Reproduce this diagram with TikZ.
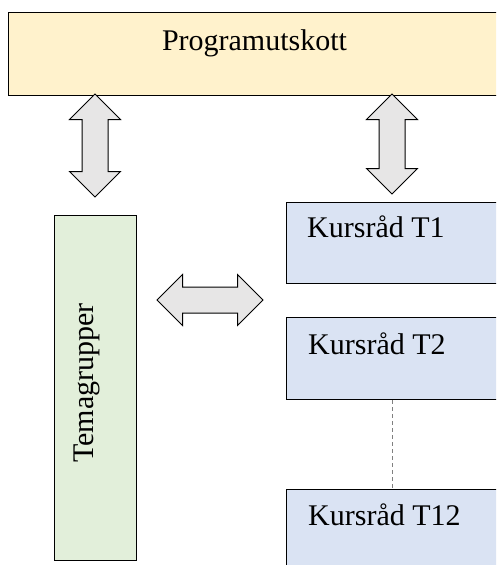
\documentclass[tikz,border=0pt]{standalone}
\usepackage{fontspec}
\setmainfont{Liberation Serif}
\usepackage{tikz}
\usetikzlibrary{positioning, shapes.arrows}

\definecolor{progfill}{HTML}{FFF2CC}
\definecolor{temafill}{HTML}{E2EFDA}
\definecolor{kursfill}{HTML}{DAE3F3}
\definecolor{linkfill}{HTML}{E7E6E6}

\begin{document}
\begin{tikzpicture}[x=1pt, y=1pt, node distance=33pt,
    unit/.style = {draw, line width=1pt, rectangle, inner sep=0pt,
                   anchor=north west},
    kurs/.style = {unit, fill=kursfill, minimum width=212pt, minimum height=82pt},
    caption/.style = {inner sep=0pt, font=\fontsize{30}{36}\selectfont},
    link/.style = {draw, line width=1pt, fill=linkfill, double arrow,
                   inner xsep=0pt, inner ysep=12.5pt, minimum width=50pt,
                   double arrow head extend=12.5pt}]

    \useasboundingbox (0,0) rectangle (496,-565);
    \clip (0,0) rectangle (496,-565);

    % Boxes
    \node [unit, fill=progfill, minimum width=492pt, minimum height=83pt] (prog) at (8,-12) {};
    \node [caption, anchor=base] (progname) at ([yshift=-38pt]prog.north) {Programutskott};

    \node [unit, fill=temafill, minimum width=82pt, minimum height=345pt] (tema) at (54,-215) {};
    \node [caption, anchor=base, rotate=90] (temaname) at (93,-383) {Temagrupper};

    \node [kurs, minimum height=81pt] (t1) at (286,-202) {};
    \node [kurs] (t2) [below=33pt of t1.south west, anchor=north west] {};
    \node [kurs] (t12) [below=89pt of t2.south west, anchor=north west] {};
    \node [caption, anchor=base west] (t1name) at ([xshift=21pt,yshift=-35pt]t1.north west) {Kursråd T1};
    \node [caption, anchor=base west] (t2name) at ([xshift=22pt,yshift=-37pt]t2.north west) {Kursråd T2};
    \node [caption, anchor=base west] (t12name) at ([xshift=22pt,yshift=-36pt]t12.north west) {Kursråd T12};

    % Links
    \node [link, rotate=90, minimum height=103pt] (progtema) at (95,-145.5) {};
    \node [link, rotate=90, minimum height=100pt] (progkurs) at (392,-144) {};
    \node [link, minimum height=106pt] (temakurs) at (210,-300) {};
    \draw [dashed, gray, line width=0.75pt, dash pattern=on 4pt off 3pt] (t2.south) -- (t12.north);
\end{tikzpicture}
\end{document}
